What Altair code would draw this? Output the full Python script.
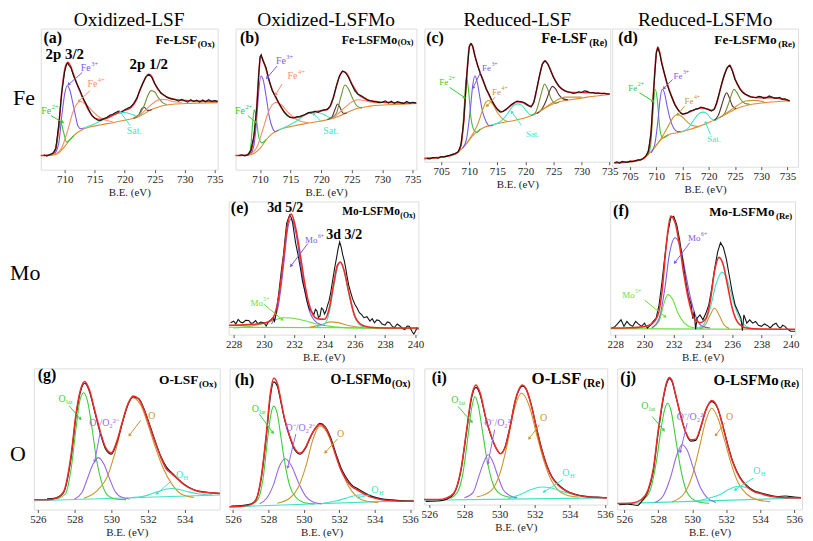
import math
import altair as alt
import pandas as pd

# ===================== DATA (intensities in % of panel height) =====================
# ---- (a) Fe-LSF(Ox) ----
a_exp = [(706.5,10.5),(707,9.5),(707.5,10.8),(708,11.5),(708.5,15),(709,32),(709.5,55),(710,70),(710.3,74.5),(710.5,75.5),(710.7,73.8),(711,72.5),(711.5,66),(712,61),(712.5,56.5),(713,51),(713.5,47),(714,42.5),(714.5,38.5),(715,36.5),(715.5,35),(716,34.8),(716.5,36.2),(717,37),(717.5,38.5),(718,39.2),(718.5,40.5),(719,41.5),(719.5,40.8),(720,42.5),(720.5,43.5),(721,44.5),(721.5,47),(722,50.5),(722.5,56),(723,61),(723.5,65.5),(724,67.5),(724.5,65.5),(725,61),(725.5,57.5),(726,54.5),(726.5,53),(727,51.5),(727.5,50.5),(728,50),(728.5,49.5),(729,48.5),(729.5,49.8),(730,48.8),(730.5,47.8),(731,49.6),(731.5,48.3),(732,49.2),(732.5,47.8),(733,49.4),(733.5,48.1),(734,49.6),(734.5,48.4),(735,49),(735.5,48.4)]
a_env = [(706,10),(707,10.2),(708,11.5),(708.5,15),(709,31),(709.5,55),(710,71),(710.5,76),(711,73),(711.5,67),(712,61),(713,51),(714,42),(715,36.5),(716,35.5),(717,36.5),(718,38.5),(719,40.5),(720,42),(721,44),(722,50),(722.5,56),(723,61),(723.5,65.5),(724,67.5),(724.5,66),(725,61),(726,54.5),(727,51.5),(728,50),(730,49),(732,48.6),(735.5,48.3)]
a_bg = [(706,10),(708,10.3),(709,12),(710,16.5),(711,22),(712,26),(713,28.5),(714,30),(716,31.8),(718,33.3),(720,35),(722,37),(723,39),(724,41.5),(725,43.5),(726,45),(728,46.3),(731,47),(735.5,47.5)]
a_fe2 = [(707.5,10.2),(708.3,12.5),(708.8,23),(709.3,34),(709.8,26.5),(710.3,19.5),(710.8,21),(711.5,24)]
a_fe3 = [(708.3,11),(709,19),(709.5,38),(710,54),(710.4,59.5),(710.8,57),(711.3,48),(711.8,38),(712.2,31),(712.7,29),(713.2,29.5)]
a_fe4 = [(708.5,11),(709.5,15.5),(710.5,28),(711.3,40),(712,46.5),(712.6,48.3),(713.5,46.5),(714.5,42),(715.5,38),(716.5,35.5),(718,34)]
a_sat = [(713,29.2),(715,32.5),(717,36.5),(719,40),(720,40.5),(721,39.5),(722,38),(723,39.5)]
a_p1 = [(721.5,36.5),(722.3,38.5),(722.9,43.5),(723.3,44),(723.8,42),(724.5,42.5)]
a_p2 = [(721.5,36.5),(722.5,39.5),(723.3,46),(723.8,52),(724.4,56),(725,55),(725.6,51),(726.3,47.5),(727,46.2)]
a_p3 = [(722,37),(723,40.5),(724,44.5),(725,48),(726,49.8),(727,49.5),(728,48.3),(729.5,47.6)]
a_bold = [(708.0,93.4,"(a)",16),(710.0,81.7,"2p 3/2",15),(724.0,74.6,"2p 1/2",15)]
a_ions = [(714.0,72.3,"Fe","3+","sup","fe3"),(715.1,60.6,"Fe","4+","sup","fe4s"),(707.4,41.8,"Fe","2+","sup","fe2")]
a_plain = [(721.6,27.7,"Sat.","sat")]
a_arrows = [(712.9,68.8,710.7,60.6,"fe3"),(714.2,55.9,712.4,48.8,"fe4s"),(707.7,38.3,709.6,33.6,"fe2"),(720.9,31.2,719.3,40.6,"sat")]
a_title = ("Fe-LSF","(Ox)",13)

# ---- (b) Fe-LSFMo(Ox) ----
b_exp = [(706.5,10),(707,10.5),(707.5,9.8),(708,10.6),(708.5,13.6),(709,24),(709.5,45),(709.8,68),(710,80),(710.2,81.5),(710.5,77),(711,72.3),(711.5,63),(712,56),(712.5,52.3),(713,47.7),(713.5,44),(714,40.6),(714.5,38.3),(715,37),(715.5,36.6),(716,37.5),(716.5,37.8),(717,38.3),(717.5,39.5),(718,40.6),(718.5,40.2),(719,41.5),(719.5,40.5),(720,41.8),(720.5,42.5),(721,42.5),(721.5,45.3),(722,51),(722.5,59.4),(723,66.4),(723.5,70),(724,68.8),(724.5,65.3),(725,60.5),(725.5,56),(726,53.5),(726.5,52.5),(727,51.2),(727.5,49.5),(728,48.8),(728.5,48.5),(729,48.1),(729.5,47.5),(730,47.7),(730.5,48.8),(731,47.2),(731.5,48.5),(732,47),(732.5,48.2),(733,47.5),(733.5,46.8),(734,48.3),(734.5,47.2),(735,47.8),(735.5,47.3)]
b_env = [(706,10),(708,10.4),(708.5,13),(709,23),(709.5,47),(709.8,68),(710.1,80.5),(710.4,78.5),(711,71),(711.5,63),(712,56.5),(713,47.8),(714,40.6),(715,37),(716,37),(717,38.3),(718,40.2),(719,41),(720,41.8),(721,42.8),(721.5,45),(722,51),(722.5,59),(723,66),(723.6,69.5),(724.2,68),(725,61),(726,53.8),(727,50.8),(728,48.8),(730,47.8),(735.6,47.2)]
b_bg = [(706,10),(708,10.2),(709,11.5),(710,15),(711,21),(712,25.5),(713,28),(715,30.5),(718,33),(720,34.5),(722,36.5),(723,38),(724,40),(725,42),(726,43.5),(728,45),(731,46),(735.6,47)]
b_fe2 = [(707.8,10.3),(708.4,14),(708.8,33),(709.05,42.5),(709.4,36),(709.8,23),(710.3,19),(711,21.5)]
b_fe3 = [(708.5,11),(709,17),(709.5,38),(709.8,56),(710.15,66.4),(710.5,64),(711,52),(711.5,38),(712,30),(712.5,27),(713,28)]
b_fe4 = [(708.5,11),(709.5,16),(710.5,29),(711.3,40),(712,46),(712.7,47.7),(713.5,46),(714.5,41),(715.5,37),(716.5,34.5),(718,33.2)]
b_sat = [(713,28),(714.5,31),(716,34.5),(717.5,39),(718.5,41),(719.5,40.5),(720.5,39),(721.5,37),(722.5,37.5)]
b_p1 = [(721,35.5),(721.8,37.5),(722.3,43),(722.7,46.5),(723.1,44),(723.6,40),(724.2,40)]
b_p2 = [(721.5,36),(722.5,40),(723.2,51),(723.9,60),(724.5,57),(725.2,50),(725.9,45),(726.7,43.5)]
b_p3 = [(722,36.5),(723,40.5),(724,44.5),(725,48),(726,49.5),(727,49),(728,48),(729.5,47.3)]
b_bold = [(708.3,93.4,"(b)",16)]
b_ions = [(713.9,77,"Fe","3+","sup","fe3"),(715.8,66.4,"Fe","4+","sup","fe4s"),(707.2,41.8,"Fe","2+","sup","fe2")]
b_plain = [(721.6,27.7,"Sat.","sat")]
b_arrows = [(712.8,73.5,711.2,65.3,"fe3"),(713.6,60.6,712.6,53.5,"fe4s"),(708,38.3,709.3,33.6,"fe2"),(720.1,33.6,718.8,39.4,"sat")]
b_title = ("Fe-LSFMo","(Ox)",12)

# ---- (c) Fe-LSF(Re) ----
c_exp = [(702.5,2.5),(703,2),(703.5,3.2),(704,3),(704.5,2.6),(705,3.8),(705.5,3.5),(706,4.2),(706.5,4.8),(707,5.5),(707.5,6.2),(708,7.4),(708.5,12.4),(709,29.8),(709.5,62),(710,86.8),(710.3,88.8),(710.6,86.8),(711,79.4),(711.5,72),(712,65.8),(712.5,60.8),(713,54.6),(713.5,50.9),(714,45.9),(714.5,42.2),(715,39.2),(715.5,37.2),(716,37.7),(716.5,39.2),(717,41),(717.5,43),(718,44.2),(718.5,45.5),(719,45.2),(719.5,44.8),(720,43.9),(720.5,42.2),(721,41),(721.5,44.7),(722,54.6),(722.5,64.5),(723,73.2),(723.5,75.7),(724,73.2),(724.5,68.2),(725,63.3),(725.5,59.6),(726,56.6),(726.5,54.6),(727,53.3),(727.5,52.5),(728,52.1),(728.5,51.2),(729,51.6),(729.5,52.5),(730,52),(730.5,53.2),(731,52.8),(731.5,51.8),(732,52),(732.5,51.2),(733,51.6),(733.5,51),(734,51.4),(734.5,50.8),(735,50.9)]
c_env = [(702,2.5),(705,3.5),(707,5.3),(708,7.5),(708.5,12.5),(709,30),(709.5,62),(710,86),(710.3,88.5),(710.6,86.5),(711,79.5),(712,66),(713,55),(714,46),(715,39.5),(715.7,37.5),(716.5,39),(717.5,42.5),(718.5,45),(719.5,44.5),(720.5,42.3),(721,41.8),(721.5,45),(722,54),(722.5,64.5),(723,73),(723.5,75.8),(724,73.3),(725,63.5),(726,56.5),(727,53.3),(728,52),(730,52),(732,51.8),(735,50.9)]
c_bg = [(702,2),(706,4),(707.5,5.5),(708.5,9),(709.5,13.5),(710.5,19),(711.5,23),(712.5,25.5),(714,27.5),(716,29.5),(718,31),(720,33),(722,36.5),(723,39),(724,41.5),(725,43.5),(726,45),(728,46.5),(731,48.5),(735,50.5)]
c_fe2 = [(708,7),(708.6,13),(709.1,42),(709.5,64),(709.9,52),(710.3,33),(710.8,24),(711.3,22),(712,24.5)]
c_fe3 = [(708.8,10),(709.5,17),(710.2,40),(710.6,57),(711,64.5),(711.4,60),(711.9,48),(712.4,37),(713,30),(713.6,27),(714.3,27.3)]
c_fe4 = [(709.5,13.5),(710.5,20),(711.5,28),(712.3,38),(713,45),(713.5,46),(714.2,43),(715,37),(716,32),(717,30)]
c_sat = [(714,27.5),(715.5,30),(716.8,36),(717.7,41.5),(718.5,43.4),(719.3,42.5),(720.2,38),(721,35),(721.8,35.5)]
c_p1 = [(721,34.5),(721.8,37),(722.5,46),(723,54),(723.4,58.3),(723.9,55),(724.5,48),(725.2,44),(726,44.5)]
c_p2 = [(722,36),(723,40),(723.7,46),(724.3,53),(724.8,56.6),(725.3,55),(726,50),(726.8,47),(727.6,46.5)]
c_p3 = [(722.5,37.5),(724,42),(725.5,46),(727,48.5),(728.5,48.5),(730,48.5)]
c_bold = [(703.9,93,"(c)",16)]
c_ions = [(705.9,59.6,"Fe","2+","sup","fe2"),(713.5,70.7,"Fe","3+","sup","fe3"),(715.3,52.1,"Fe","4+","sup","fe4g")]
c_plain = [(721.3,21,"Sat.","sat")]
c_arrows = [(706.5,55.8,709.1,48.4,"fe2"),(712,67,710.7,55.8,"fe3"),(714.6,48.4,713.2,42.2,"fe4g"),(719.3,27.3,717.6,37.2,"sat")]
c_title = ("Fe-LSF","(Re)",14.5)

# ---- (d) Fe-LSFMo(Re) ----
d_exp = [(702,2.9),(702.5,3.5),(703,2.5),(703.5,3.8),(704,3.4),(704.5,3),(705,4),(705.5,3.6),(706,4.3),(706.5,4.9),(707,4.8),(707.5,5.8),(708,7.7),(708.5,11.3),(709,24.6),(709.5,56),(710,82.4),(710.3,86),(710.7,81.2),(711,75.2),(711.5,68),(712,60.7),(712.5,54.7),(713,49.9),(713.5,45),(714,42),(714.5,39.5),(715,37.8),(715.5,38.6),(716,39),(716.5,40.5),(717,40.7),(717.5,41.8),(718,42),(718.5,43.2),(719,42.7),(719.5,42),(720,41.4),(720.5,40.2),(721,41.4),(721.5,46.3),(722,53.5),(722.5,60.7),(723,66.7),(723.5,71.6),(724,73.5),(724.5,69.2),(725,63.1),(725.5,59.5),(726,55.9),(726.5,53.5),(727,52.3),(727.5,51.5),(728,50.6),(728.5,50.2),(729,49.9),(729.5,51),(730,50.6),(730.5,49.5),(731,50),(731.5,51.2),(732,50.5),(732.5,49.5),(733,49.6),(733.5,50.2),(734,48.7),(734.5,49.2),(735,48.2),(735.4,47.5)]
d_env = [(702,2.8),(705,3.8),(707,5),(708,7.5),(708.5,11.5),(709,25),(709.5,56),(710,82),(710.3,86.5),(710.7,82),(711,76),(712,61),(713,50),(714,42),(715,38.2),(715.5,38.3),(716.5,40),(717.5,41.5),(718.5,42.5),(719.5,42),(720.5,40.8),(721,41.5),(721.5,46),(722,53),(722.5,60.5),(723,67),(723.5,71.5),(724,73.2),(724.5,69.5),(725,63.5),(726,56),(727,52.3),(728,50.5),(730,50),(732,50),(735.4,47.8)]
d_bg = [(702,2.5),(706,4),(707.5,5.5),(708.5,9),(709.5,13),(710.5,18),(711.5,21.5),(712.5,23.5),(714,24.5),(716,26.5),(718,29),(720,32),(722,35.5),(723,37.5),(724,39.5),(725,41.5),(726,43),(728,45),(731,46.5),(735.4,47.5)]
d_fe2 = [(708.3,8),(708.9,15),(709.3,36),(709.8,56),(710.2,48),(710.6,30),(711,22),(711.5,21),(712.3,23)]
d_fe3 = [(709,10),(709.7,16),(710.3,33),(710.7,48),(711.1,56),(711.5,54),(712,45),(712.6,35),(713.3,28),(714,25.5),(714.8,25.5)]
d_fe4 = [(709.5,13),(710.5,18),(711.5,24),(712.5,31),(713.3,36),(714,37.8),(714.8,36.5),(715.7,33),(716.7,30),(718,29)]
d_sat = [(714.5,25),(716,27.5),(717,33),(718,38),(718.8,39.5),(719.6,38.5),(720.4,35),(721.2,33.5),(722,35.5)]
d_p1 = [(721,33.5),(721.8,37),(722.5,45),(723,51),(723.4,53.5),(723.9,50),(724.5,44),(725.2,42)]
d_p2 = [(722,35.5),(723,38.5),(723.7,45),(724.3,52),(724.8,56),(725.3,54),(726,49),(726.8,46),(727.8,45.2)]
d_p3 = [(722.5,36.5),(724,40.5),(725.5,44.5),(727,47.5),(728.5,48),(730.5,47)]
d_bold = [(704.6,93,"(d)",16)]
d_ions = [(706,57,"Fe","2+","sup","fe2"),(714.6,65.5,"Fe","3+","sup","fe3"),(716.7,47.5,"Fe","4+","sup","fe4g")]
d_plain = [(721,19.8,"Sat.","sat")]
d_arrows = [(706.8,53.5,709.3,47.5,"fe2"),(713.1,63.1,711.5,57,"fe3"),(715.4,43.9,714.1,37.8,"fe4g"),(720.3,23.4,719.4,31.8,"sat")]
d_title = ("Fe-LSFMo","(Re)",13.5)

# ---- (e) Mo-LSFMo(Ox) ----
e_exp = [(227.8,9),(228,10.1),(228.15,8),(228.3,11.4),(228.45,9.5),(228.6,8.9),(228.8,10.8),(229,10.6),(229.15,8.5),(229.3,8.9),(229.45,10.5),(229.6,8.1),(229.8,9.5),(230,8.9),(230.15,6.5),(230.3,9.6),(230.45,11),(230.6,12.7),(230.7,10),(230.8,15.2),(231,32.9),(231.15,48),(231.3,60.8),(231.5,83.5),(231.7,90),(231.8,88),(231.9,83.5),(232.1,68.4),(232.25,60),(232.4,50.6),(232.55,40),(232.7,32.9),(232.85,25),(233,19),(233.15,17),(233.3,15.2),(233.4,19),(233.5,17.7),(233.6,13),(233.7,13.9),(233.8,20),(233.9,19),(234,15.5),(234.1,17.7),(234.2,22),(234.3,25.3),(234.4,31),(234.5,38),(234.6,45),(234.7,51.9),(234.8,58),(234.9,64.6),(235,69.6),(235.1,65.8),(235.2,60),(235.3,55.7),(235.4,50),(235.5,43),(235.6,37),(235.7,32.9),(235.85,27),(236,22.8),(236.15,20),(236.3,16.5),(236.45,15),(236.6,12.7),(236.8,13.5),(237,10.1),(237.15,12),(237.3,8.9),(237.45,11),(237.6,10.6),(237.8,8),(238,7.1),(238.15,9.5),(238.3,8.9),(238.45,6.5),(238.6,5.1),(238.8,8),(239,6.3),(239.15,4.5),(239.3,3.8),(239.45,6.5),(239.6,6.3),(239.8,2),(239.9,0.5),(240,2.5),(240.1,5),(240.2,4)]
e_env = [(227.7,7),(229,7.5),(230,8.5),(230.5,11),(231,30),(231.3,58),(231.55,82),(231.8,90.5),(232.1,80),(232.4,60),(232.7,38),(233,22),(233.5,12),(234,11.5),(234.3,19),(234.6,38),(234.85,52),(235.05,54.5),(235.3,48),(235.6,32),(236,14),(236.5,7),(237,5.5),(238,5),(240.2,5)]
e_mo6a = [(230.5,8),(231,25),(231.3,52),(231.55,78),(231.8,87),(232.1,77),(232.4,55),(232.7,33),(233,18),(233.5,9),(234,7)]
e_mo6b = [(233.5,6),(234,8),(234.3,16),(234.6,35),(234.85,50),(235.05,54),(235.3,47),(235.6,31),(236,13),(236.5,6),(237,5)]
e_mo5a = [(228,5),(229,6),(230,8.5),(230.7,11),(231.3,12.7),(231.8,12.5),(232.5,11),(233.5,8),(234.5,6),(236,5),(240.2,4.5)]
e_mo5b = [(233,5.5),(233.8,7.5),(234.4,9.6),(234.9,9),(235.5,7),(236.3,5.5),(237.5,5)]
e_base = [(227.7,5.5),(240.2,5)]
e_bold = [(228.4,95,"(e)",16),(231.4,95,"3d 5/2",14),(235.3,74.7,"3d 3/2",14)]
e_ions = [(233.4,70.9,"Mo","6+","sup","mo6"),(229.8,24,"Mo","5+","sup","mo5")]
e_plain = []
e_arrows = [(232.9,68.4,231.8,51.9,"mo6"),(230,22.8,231.2,11.4,"mo5")]
e_title = ("Mo-LSFMo","(Ox)",11.5)

# ---- (f) Mo-LSFMo(Re) ----
f_exp = [(227.8,4.9),(228,6.2),(228.2,8.6),(228.4,11.1),(228.6,6.2),(228.8,9.9),(229,7.4),(229.2,6.2),(229.4,9.9),(229.6,7.9),(229.8,6.2),(230,8.6),(230.2,4.9),(230.4,6.9),(230.6,9.9),(230.8,12.3),(231,22.2),(231.2,39.5),(231.4,59.3),(231.6,76.5),(231.8,87.7),(232,88.9),(232.2,82.7),(232.4,71.6),(232.6,56.8),(232.8,42),(233,29.6),(233.2,22.2),(233.3,12),(233.4,17.3),(233.5,4),(233.6,12.3),(233.8,14.8),(234,11.1),(234.2,16),(234.4,22.2),(234.6,34.6),(234.8,49.4),(235,61.7),(235.2,69.1),(235.4,65.4),(235.6,56.8),(235.8,44.4),(236,32.1),(236.2,22.2),(236.4,17.3),(236.6,12.3),(236.7,3),(236.8,14.8),(237,8.6),(237.2,11.1),(237.4,8.6),(237.6,9.9),(237.8,7),(238,6.2),(238.2,8),(238.4,6.9),(238.6,5),(238.8,7.4),(239,8.6),(239.15,6),(239.3,4.9),(239.45,7),(239.6,6.2),(239.8,4),(240,2.5),(240.3,2.5)]
f_env = [(227.7,5),(229,5.2),(230,6),(230.5,8),(230.9,14),(231.2,32),(231.5,68),(231.8,89),(232.1,84),(232.4,67),(232.7,45),(233,27),(233.4,12),(233.8,9),(234.2,12),(234.5,25),(234.8,48),(235.1,58),(235.4,52),(235.7,36),(236,20),(236.4,9),(237,5),(238,4.2),(240.3,4)]
f_mo6a = [(230.5,5),(231,12),(231.4,35),(231.7,60),(232.1,72.8),(232.5,64),(232.8,47),(233.1,30),(233.5,14),(234,6),(234.5,5)]
f_mo5a = [(230.5,5),(231,10),(231.3,22),(231.6,30),(231.9,27),(232.3,16),(232.7,9),(233.2,5.5),(234,4.5)]
f_mo6b = [(233.5,4.5),(234,7),(234.5,20),(234.9,38),(235.3,46.9),(235.7,40),(236.1,24),(236.6,10),(237.2,5)]
f_mo5b = [(233.8,4.5),(234.2,8),(234.5,15),(234.8,19.8),(235.1,15),(235.4,8),(235.8,4.5)]
f_base = [(227.7,4.5),(240.3,3.8)]
f_bold = [(228.4,92.6,"(f)",16)]
f_ions = [(233.7,72.8,"Mo","6+","sup","mo6"),(229.2,29.6,"Mo","5+","sup","mo5")]
f_plain = []
f_arrows = [(233.1,69.1,232.1,54.3,"mo6"),(230.0,25.9,231.4,13.6,"mo5")]
f_title = ("Mo-LSFMo","(Re)",13)

# ---- (g) O-LSF(Ox) ----
g_exp = [(526.5,7.5),(527,8.3),(527.4,12),(527.8,36),(528.1,68.5),(528.35,85),(528.55,89.5),(528.8,84),(529.1,69),(529.4,54),(529.7,42.5),(530,39.2),(530.3,47.5),(530.6,61.5),(530.9,74.2),(531.2,80),(531.35,79.2),(531.5,78.5),(531.8,70.5),(532.1,59.5),(532.4,48),(532.7,37.5),(533,30),(533.3,26),(533.6,22),(534,17.5),(534.5,14),(535,12.5),(535.5,11.8),(535.9,11.2)]
g_env = [(525.8,6.9),(526.5,6.9),(527,8),(527.4,12.6),(527.8,37.9),(528.1,70.1),(528.35,86.2),(528.55,90.8),(528.8,85),(529.1,70.1),(529.4,55.2),(529.7,43.7),(530,40.2),(530.3,48.3),(530.6,62.1),(530.9,74.7),(531.2,80.5),(531.5,78.2),(531.8,70.1),(532.1,58.6),(532.4,47.1),(532.7,36.8),(533,28.7),(533.3,25.3),(533.6,21.8),(534,17.2),(534.5,13.8),(535,12.2),(535.9,11.5)]
g_olat = [(527,7.5),(527.5,11),(527.8,28),(528.1,60),(528.3,78),(528.5,82.8),(528.7,77),(528.9,62),(529.2,35),(529.5,18),(529.8,10),(530.2,7.5),(530.8,7)]
g_oper = [(528,7.5),(528.4,12),(528.7,22),(529,32),(529.3,36.8),(529.6,32),(529.9,22),(530.2,13),(530.6,8.5),(531,7.5)]
g_o = [(528.5,8),(529.2,13),(529.8,24),(530.3,45),(530.7,66),(531.15,79.3),(531.6,74),(532,60),(532.4,44),(532.8,30),(533.3,18),(533.8,11),(534.5,8.5)]
g_oh = [(531,8.3),(531.8,9.5),(532.5,12.5),(533,14.5),(533.3,14.9),(533.7,14.2),(534.2,12.5),(534.8,11),(535.5,10.2)]
g_base = [(525.8,6.2),(535.9,10.3)]
g_bold = [(526.5,95.4,"(g)",16)]
g_ions = [(527.4,78.2,"O","lat","sub","olat"),(533.8,24.1,"O","H","sub","cyan")]
g_plain = [(529.6,61,"O⁻/O₂²⁻","oper"),(532.2,66,"O","gold")]
g_arrows = [(527.7,73.6,528.3,64.4,"olat"),(529.4,55.2,529.1,34.5,"oper"),(531.6,63.2,531,52.9,"gold"),(533.2,19.5,532.5,11.5,"cyan")]
g_title = ("O-LSF","(Ox)",13.5)

# ---- (h) O-LSFMo(Ox) ----
h_exp = [(525.9,2.5),(526.5,2.8),(527,3.8),(527.3,6.8),(527.6,22.5),(527.9,54),(528.1,79),(528.3,90.5),(528.5,87.5),(528.7,76.5),(528.9,64.5),(529.2,51.5),(529.5,42),(529.8,39.2),(530.1,43.5),(530.4,52),(530.7,58.5),(530.9,61),(531.2,58.8),(531.5,51.5),(531.8,40),(532.1,29.5),(532.4,22.5),(532.7,17.5),(533,15),(533.4,12),(533.8,9.5),(534.4,7.5),(535,6.8),(535.6,6.2),(536.2,6)]
h_env = [(525.8,1.9),(526.5,2.3),(527,3.5),(527.3,7),(527.6,23.3),(527.9,55.8),(528.1,81.4),(528.3,93),(528.5,89.5),(528.7,77.9),(528.9,65.1),(529.2,52.3),(529.5,43),(529.8,40),(530.1,44.2),(530.4,52.3),(530.7,58.1),(530.9,60.5),(531.2,58.1),(531.5,50),(531.8,38.4),(532.1,27.9),(532.4,20.9),(532.7,16.3),(533,14),(533.4,11.2),(533.8,8.8),(534.4,7),(535,6.3),(536.2,5.8)]
h_olat = [(527,3.5),(527.4,7),(527.7,22),(528,55),(528.15,68),(528.3,73.3),(528.5,68),(528.7,52),(528.9,35),(529.2,17),(529.6,8),(530,5),(530.6,4)]
h_oper = [(527.5,4),(527.9,8),(528.3,18),(528.6,30),(528.95,36),(529.3,31),(529.7,19),(530.1,9.5),(530.5,5.5),(531,4)]
h_o = [(528.5,4.5),(529.2,8),(529.7,16),(530.1,30),(530.5,49),(530.9,59.3),(531.3,55),(531.7,43),(532.1,29),(532.5,17),(533,9),(533.5,6),(534.2,5)]
h_oh = [(531,4.3),(531.8,6),(532.5,8.5),(533.2,10.5),(533.8,9.5),(534.5,7.3),(535.2,6.2)]
h_base = [(525.8,1.9),(536.2,6.5)]
h_bold = [(526.65,91.9,"(h)",16)]
h_ions = [(527.35,70.9,"O","lat","sub","olat"),(534.1,14,"O","H","sub","cyan")]
h_plain = [(529.8,58.1,"O⁻/O₂²⁻","oper"),(532.07,53.5,"O","gold")]
h_arrows = [(527.5,67.4,528.24,54.7,"olat"),(529.55,53.5,529.1,30.2,"oper"),(531.9,50,531.23,40.7,"gold"),(533.75,10.5,533.1,8.5,"cyan")]
h_title = ("O-LSFMo","(Ox)",14)

# ---- (i) O-LSF(Re) ----
i_exp = [(525.8,2.4),(526.5,2.6),(527,4),(527.4,8),(527.8,25),(528.1,51.5),(528.4,78),(528.65,86),(528.9,80.5),(529.2,64),(529.5,51),(529.8,41.5),(530.05,37.5),(530.3,41.8),(530.6,57.5),(530.9,76.5),(531.1,84),(531.3,87),(531.5,85),(531.8,73.5),(532.1,56.5),(532.4,40.8),(532.7,28.5),(533,20),(533.4,14),(533.8,10.2),(534.3,7.6),(535,5.8),(535.6,5.4),(536.1,5)]
i_env = [(525.7,3.7),(526.5,3.7),(527,4.9),(527.4,8.5),(527.8,25.6),(528.1,52.4),(528.4,79.3),(528.65,87.8),(528.9,81.7),(529.2,64.6),(529.5,51.2),(529.8,41.5),(530.05,37.3),(530.3,41.5),(530.6,57.3),(530.9,76.8),(531.1,84.6),(531.3,87.8),(531.5,85.4),(531.8,73.2),(532.1,56.1),(532.4,40.2),(532.7,28),(533,19.5),(533.4,13.4),(533.8,9.8),(534.3,7.3),(535,5.6),(536.1,4.9)]
i_olat = [(527.2,4.5),(527.6,9),(527.9,22),(528.2,50),(528.4,70),(528.6,79.3),(528.8,72),(529,56),(529.3,32),(529.6,16),(530,8),(530.5,5.5),(531,5)]
i_oper = [(528,5),(528.5,9),(528.8,20),(529.1,31),(529.35,36.6),(529.6,32),(529.9,21),(530.2,11),(530.6,6.5),(531,5)]
i_o = [(528.7,5.5),(529.5,10),(530,22),(530.4,42),(530.8,68),(531.25,81.7),(531.7,72),(532.1,52),(532.5,33),(532.9,19),(533.3,11),(533.8,7),(534.5,5.5)]
i_oh = [(530.5,4.3),(531.2,7.5),(531.8,11),(532.4,12.9),(533,12),(533.6,9.5),(534.2,7.5),(535,6)]
i_base = [(525.7,3.2),(536.1,4.9)]
i_bold = [(526.57,92.7,"(i)",16)]
i_ions = [(527.55,76.8,"O","lat","sub","olat"),(533.87,23.2,"O","H","sub","cyan")]
i_plain = [(529.97,59.8,"O⁻/O₂²⁻","oper"),(532.5,63.4,"O","gold")]
i_arrows = [(527.64,72,528.4,61,"olat"),(529.72,54.9,529.34,30.5,"oper"),(532.27,58.5,531.7,48.8,"gold"),(533.6,18.3,532.55,9.5,"cyan")]
i_title = ("O-LSF","(Re)",17)

# ---- (j) O-LSFMo(Re) ----
j_exp = [(525.7,3.5),(526.2,3.8),(526.8,3),(527,5.5),(527.4,13),(527.7,27),(528,55),(528.3,79),(528.5,89.5),(528.65,92.8),(528.8,91),(529,82),(529.3,67.5),(529.6,55),(529.9,48.5),(530.2,49),(530.5,58),(530.8,70.5),(531.15,76.5),(531.5,71.5),(531.8,59.5),(532.1,45.5),(532.4,33.5),(532.8,23),(533.2,17),(533.6,13.5),(534,11.8),(534.6,10),(535,9.2),(535.5,9.6),(536,8.8),(536.4,8.5)]
j_env = [(525.6,4.2),(526.5,4.7),(527,7.1),(527.4,14.1),(527.7,28.2),(528,56.5),(528.3,80),(528.5,90.6),(528.65,93.6),(528.8,91.8),(529,82.4),(529.3,67.1),(529.6,55.3),(529.9,49.4),(530.2,49.9),(530.5,58.8),(530.8,70.6),(531.15,77.2),(531.5,71.8),(531.8,58.8),(532.1,44.7),(532.4,32.9),(532.8,22.4),(533.2,16.5),(533.6,12.9),(534,11.3),(534.6,9.4),(535.3,8.5),(536.4,8.2)]
j_olat = [(527,6),(527.5,13),(527.9,35),(528.2,60),(528.4,72),(528.55,75.3),(528.75,70),(529,52),(529.3,30),(529.6,15),(530,7.5),(530.5,5),(531,4.5)]
j_oper = [(527.8,5),(528.3,10),(528.7,22),(529.1,39),(529.4,45.9),(529.7,42),(530.1,28),(530.5,15),(530.9,8),(531.4,5)]
j_o = [(528.8,5.5),(529.5,11),(530,24),(530.4,43),(530.8,63),(531.15,71.8),(531.5,65),(531.9,49),(532.3,32),(532.7,19),(533.2,11),(533.8,7),(534.6,5.5)]
j_oh = [(530,5.5),(530.8,7.5),(531.6,10.5),(532.2,14.5),(532.7,16.5),(533.2,15.5),(533.8,12.5),(534.5,10),(535.3,8.5)]
j_base = [(525.6,4.2),(536.4,8.2)]
j_bold = [(526.23,93,"(j)",16)]
j_ions = [(527.3,73.4,"O","lat","sub","olat"),(533.89,27.1,"O","H","sub","cyan")]
j_plain = [(529.95,65.9,"O⁻/O₂²⁻","oper"),(532.2,65.9,"O","gold")]
j_arrows = [(527.64,65.9,528.31,56.5,"olat"),(529.7,61.2,529.3,41.2,"oper"),(531.9,61.2,531.4,52.9,"gold"),(533.6,22.4,532.54,14.1,"cyan")]
j_title = ("O-LSFMo","(Re)",15)

fe_ticks_ab = [710, 715, 720, 725, 730, 735]
fe_ticks_cd = [705, 710, 715, 720, 725, 730, 735]
mo_ticks = [228, 230, 232, 234, 236, 238, 240]
o_ticks = [526, 528, 530, 532, 534, 536]
column_titles = ["Oxidized-LSF", "Oxidized-LSFMo", "Reduced-LSF", "Reduced-LSFMo"]
row_titles = ["Fe", "Mo", "O"]

# ===================== STYLE =====================
SERIF = "Liberation Serif"
COL = dict(exp="#151515", env="#ee2b2b", bg="#e3892e", fe2="#36c636", fe3="#7a5be4",
           fe4s="#f48f6a", fe4g="#c9962f", sat="#3fe4c6", brown="#5c3030", olive="#6f9139",
           mo5="#6ade3a", mo6="#7a5be4", cyan="#3fe4c6", gold="#c9962f", olat="#3ccf3c",
           oper="#9868e6")


def line_layer(pts, color, X, Y, width=1.1, interp="monotone"):
    df = pd.DataFrame(pts, columns=["E", "I"])
    return alt.Chart(df).mark_line(color=color, strokeWidth=width, interpolate=interp).encode(x=X, y=Y)


def text_layer(E, I, txt, X, Y, **kw):
    df = pd.DataFrame({"E": [E], "I": [I], "t": [txt]})
    return alt.Chart(df).mark_text(**kw).encode(x=X, y=Y, text="t:N")


def panel(P, title=None):
    xs = alt.Scale(domain=P["xdom"], nice=False, zero=False)
    ys = alt.Scale(domain=[0, 100], nice=False, zero=False)
    ax = alt.Axis(values=P["ticks"], format="d", grid=False, domain=False, ticks=True, tickSize=3,
                  tickColor="#555", labelFont=SERIF, labelFontSize=11, labelColor="#222",
                  labelPadding=1, labelFlush=False, titleFont=SERIF, titleFontSize=11,
                  titleFontWeight="normal", titleColor="#222", titlePadding=2)
    X = alt.X("E:Q", scale=xs, axis=ax, title="B.E. (eV)")
    Y = alt.Y("I:Q", scale=ys, axis=None)
    # pixels per data unit (used only to orient the small arrow heads)
    ppx = P["w"] / (P["xdom"][1] - P["xdom"][0])
    ppy = P["h"] / 100.0
    layers = []
    for c in P["curves"]:
        pts, ck = c[0], c[1]
        w = c[2] if len(c) > 2 else 1.1
        it = c[3] if len(c) > 3 else "monotone"
        layers.append(line_layer(pts, COL[ck], X, Y, w, it))
    for (E1, I1, E2, I2, ck) in P["arrows"]:
        df = pd.DataFrame({"E": [E1], "I": [I1], "E2": [E2], "I2": [I2]})
        layers.append(alt.Chart(df).mark_rule(color=COL[ck], strokeWidth=1).encode(
            x=X, y=Y, x2="E2:Q", y2="I2:Q"))
        vx = (E2 - E1) * ppx
        vy = -(I2 - I1) * ppy
        ang = math.degrees(math.atan2(vx, -vy)) % 360
        hd = pd.DataFrame({"E": [E2], "I": [I2]})
        layers.append(alt.Chart(hd).mark_point(shape="triangle", filled=True, size=14,
                                               color=COL[ck], opacity=1, angle=ang).encode(x=X, y=Y))
    fs = P.get("ionsize", 10)
    for (E, I, base, extra, mode, ck) in P["ions"]:
        layers.append(text_layer(E, I, base, X, Y, font=SERIF, fontSize=fs, color=COL[ck],
                                 align="right", baseline="middle", dx=2))
        layers.append(text_layer(E, I, extra, X, Y, font=SERIF, fontSize=fs * 0.65, color=COL[ck],
                                 align="left", baseline="middle", dx=2.5,
                                 dy=(-4 if mode == "sup" else 3)))
    for (E, I, txt, ck) in P["plain"]:
        layers.append(text_layer(E, I, txt, X, Y, font=SERIF, fontSize=fs, color=COL[ck],
                                 align="center", baseline="middle"))
    for (E, I, txt, size) in P["bold"]:
        layers.append(text_layer(E, I, txt, X, Y, font=SERIF, fontSize=size, fontWeight="bold",
                                 color="black", align="center", baseline="middle"))
    tmain, tsub, tsize = P["title"]
    ssize = tsize * 0.68
    sw = ssize * 2.0
    layers.append(text_layer(P["xdom"][1], 92, tsub, X, Y, font=SERIF, fontSize=ssize,
                             fontWeight="bold", color="black", align="right", baseline="middle",
                             dx=-3, dy=tsize * 0.3))
    layers.append(text_layer(P["xdom"][1], 92, tmain, X, Y, font=SERIF, fontSize=tsize,
                             fontWeight="bold", color="black", align="right", baseline="middle",
                             dx=-(3 + sw)))
    props = dict(width=P["w"], height=P["h"])
    if title:
        props["title"] = alt.TitleParams(title, font=SERIF, fontSize=19.5, fontWeight="normal",
                                         color="black", anchor="middle", offset=-2)
    return alt.layer(*layers).properties(**props)


PANELS = {
    "a": dict(xdom=[706, 735.5], ticks=fe_ticks_ab, w=178, h=142, ionsize=10,
              curves=[(a_bg, "bg"), (a_fe2, "fe2"), (a_fe3, "fe3"), (a_fe4, "fe4s"), (a_sat, "sat"),
                      (a_p1, "brown"), (a_p2, "olive"), (a_p3, "fe4s"), (a_env, "env", 1.6),
                      (a_exp, "exp", 1.1, "linear")],
              arrows=a_arrows, ions=a_ions, plain=a_plain, bold=a_bold, title=a_title),
    "b": dict(xdom=[706, 735.6], ticks=fe_ticks_ab, w=182, h=142, ionsize=10,
              curves=[(b_bg, "bg"), (b_fe2, "fe2"), (b_fe3, "fe3"), (b_fe4, "fe4s"), (b_sat, "sat"),
                      (b_p1, "brown"), (b_p2, "olive"), (b_p3, "fe4s"), (b_env, "env", 1.6),
                      (b_exp, "exp", 1.1, "linear")],
              arrows=b_arrows, ions=b_ions, plain=b_plain, bold=b_bold, title=b_title),
    "c": dict(xdom=[702, 735.1], ticks=fe_ticks_cd, w=187, h=134, ionsize=9,
              curves=[(c_bg, "bg"), (c_fe2, "fe2"), (c_fe3, "fe3"), (c_fe4, "fe4g"), (c_sat, "sat"),
                      (c_p1, "olive"), (c_p2, "brown"), (c_p3, "fe4g"), (c_env, "env", 1.6),
                      (c_exp, "exp", 1.1, "linear")],
              arrows=c_arrows, ions=c_ions, plain=c_plain, bold=c_bold, title=c_title),
    "d": dict(xdom=[701.6, 737], ticks=fe_ticks_cd, w=187, h=139, ionsize=9,
              curves=[(d_bg, "bg"), (d_fe2, "fe2"), (d_fe3, "fe3"), (d_fe4, "fe4g"), (d_sat, "sat"),
                      (d_p1, "brown"), (d_p2, "olive"), (d_p3, "fe4g"), (d_env, "env", 1.6),
                      (d_exp, "exp", 1.1, "linear")],
              arrows=d_arrows, ions=d_ions, plain=d_plain, bold=d_bold, title=d_title),
    "e": dict(xdom=[227.67, 240.2], ticks=mo_ticks, w=191, h=134, ionsize=9,
              curves=[(e_base, "mo5"), (e_mo5a, "mo5"), (e_mo5b, "gold"), (e_mo6a, "mo6"),
                      (e_mo6b, "cyan"), (e_exp, "exp", 1.1, "linear"), (e_env, "env", 1.6)],
              arrows=e_arrows, ions=e_ions, plain=e_plain, bold=e_bold, title=e_title),
    "f": dict(xdom=[227.66, 240.3], ticks=mo_ticks, w=186, h=134, ionsize=9,
              curves=[(f_base, "mo5"), (f_mo5a, "mo5"), (f_mo5b, "gold"), (f_mo6a, "mo6"),
                      (f_mo6b, "cyan"), (f_exp, "exp", 1.1, "linear"), (f_env, "env", 1.6)],
              arrows=f_arrows, ions=f_ions, plain=f_plain, bold=f_bold, title=f_title),
    "g": dict(xdom=[525.78, 535.9], ticks=o_ticks, w=187, h=142, ionsize=10,
              curves=[(g_base, "cyan"), (g_olat, "olat"), (g_oper, "oper"), (g_o, "gold"), (g_oh, "cyan"),
                      (g_exp, "exp", 1.2), (g_env, "env", 1.5)],
              arrows=g_arrows, ions=g_ions, plain=g_plain, bold=g_bold, title=g_title),
    "h": dict(xdom=[525.81, 536.19], ticks=o_ticks, w=185, h=142, ionsize=10,
              curves=[(h_base, "cyan"), (h_olat, "olat"), (h_oper, "oper"), (h_o, "gold"), (h_oh, "cyan"),
                      (h_exp, "exp", 1.2), (h_env, "env", 1.5)],
              arrows=h_arrows, ions=h_ions, plain=h_plain, bold=h_bold, title=h_title),
    "i": dict(xdom=[525.72, 536.13], ticks=o_ticks, w=184, h=137, ionsize=10,
              curves=[(i_base, "cyan"), (i_olat, "olat"), (i_oper, "oper"), (i_o, "gold"), (i_oh, "cyan"),
                      (i_exp, "exp", 1.2), (i_env, "env", 1.5)],
              arrows=i_arrows, ions=i_ions, plain=i_plain, bold=i_bold, title=i_title),
    "j": dict(xdom=[525.58, 536.46], ticks=o_ticks, w=186, h=142, ionsize=10,
              curves=[(j_base, "cyan"), (j_olat, "olat"), (j_oper, "oper"), (j_o, "gold"), (j_oh, "cyan"),
                      (j_exp, "exp", 1.2), (j_env, "env", 1.5)],
              arrows=j_arrows, ions=j_ions, plain=j_plain, bold=j_bold, title=j_title),
}

NOFRAME = alt.ViewBackground(stroke="transparent")


def spacer(w, h=10):
    return alt.Chart(pd.DataFrame({"t": [""]})).mark_text().encode(
        text="t:N", x=alt.value(0), y=alt.value(0)).properties(width=w, height=h, view=NOFRAME)


def rowlab(txt, w, h, x, y):
    return alt.Chart(pd.DataFrame({"t": [txt]})).mark_text(
        font=SERIF, fontSize=22, align="left", baseline="middle", color="black").encode(
        text="t:N", x=alt.value(x), y=alt.value(y)).properties(width=w, height=h, view=NOFRAME)


A = panel(PANELS["a"], column_titles[0])
B = panel(PANELS["b"], column_titles[1])
C = panel(PANELS["c"], column_titles[2])
D = panel(PANELS["d"], column_titles[3])
E_ = panel(PANELS["e"])
F_ = panel(PANELS["f"])
G = panel(PANELS["g"])
H = panel(PANELS["h"])
I_ = panel(PANELS["i"])
J = panel(PANELS["j"])

row1 = alt.hconcat(rowlab(row_titles[0], 32, 150, 4, 70), A, spacer(18), B, spacer(8), C, spacer(2), D,
                   spacing=0, bounds="flush")
row2 = alt.hconcat(rowlab(row_titles[1], 32, 140, 1, 72), spacer(189), E_, spacer(193), F_,
                   spacing=0, bounds="flush")
row3 = alt.hconcat(rowlab(row_titles[2], 25, 142, 1, 86), G, spacer(10), H, spacer(11), I_, spacer(10), J,
                   spacing=0, bounds="flush")

lower = alt.vconcat(row2, row3, spacing=-2)
chart = alt.vconcat(row1, lower, spacing=-4).properties(
    padding={"left": 0, "top": 0, "right": 0, "bottom": 0}
).configure_view(stroke="#666666", strokeWidth=1.3).configure(background="white")

chart.save("out.html", embed_options={"renderer": "svg", "actions": False})
